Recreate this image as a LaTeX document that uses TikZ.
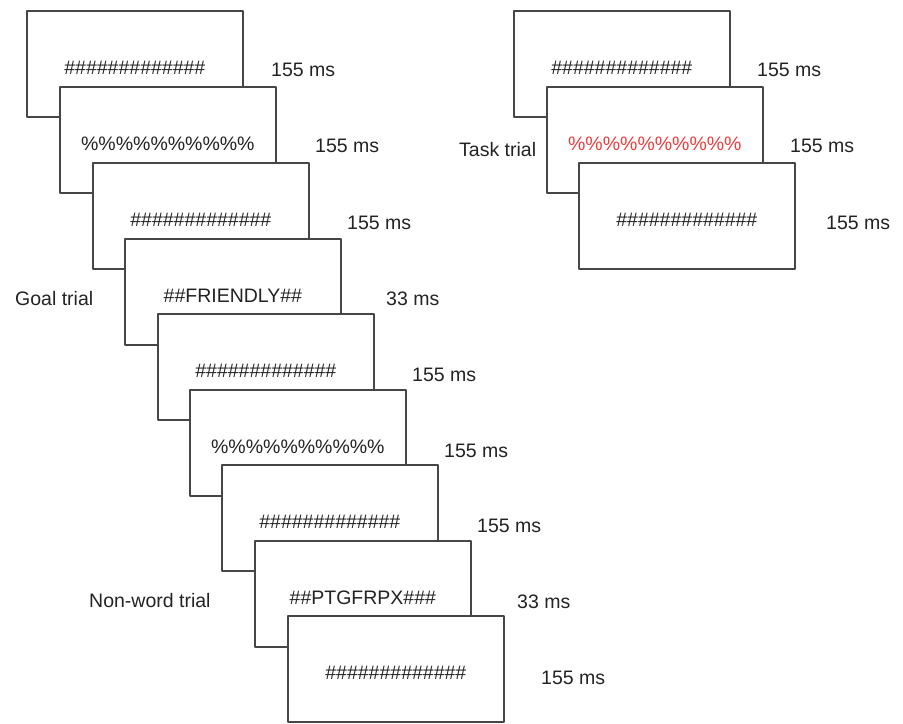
\documentclass[tikz,border=0pt]{standalone}
\usepackage{fontspec}
\setmainfont{Liberation Sans}
\definecolor{linegray}{RGB}{70,70,70}
\definecolor{txtgray}{RGB}{35,35,35}
\definecolor{stimred}{RGB}{238,62,62}
\begin{document}
\begin{tikzpicture}[x=1bp,y=-1bp,
  screen/.style={draw=linegray, fill=white, line width=1.7bp, line join=round,
    rectangle, minimum width=216bp, minimum height=106bp, inner sep=0pt, anchor=north west},
  stim/.style={font=\fontsize{19.5bp}{23bp}\selectfont, text=txtgray, anchor=base, inner sep=0pt},
  dur/.style={font=\fontsize{19.5bp}{23bp}\selectfont, text=txtgray, anchor=base west, inner sep=0pt},
  cond/.style={font=\fontsize{19.5bp}{23bp}\selectfont, text=txtgray, anchor=base west, inner sep=0pt}]
\useasboundingbox (0,0) rectangle (903,724);
% left stack
\node[screen] (b1) at (26,10) {};
\node[stim] (s1) at ([yshift=-11bp]b1.center) {\#\#\#\#\#\#\#\#\#\#\#\#\#};
\node[screen] (b2) at (59,86) {};
\node[stim] (s2) at ([yshift=-11bp]b2.center) {\%\%\%\%\%\%\%\%\%\%};
\node[screen] (b3) at (92,162) {};
\node[stim] (s3) at ([yshift=-11bp]b3.center) {\#\#\#\#\#\#\#\#\#\#\#\#\#};
\node[screen] (b4) at (124,238) {};
\node[stim] (s4) at ([yshift=-11bp]b4.center) {\#\#FRIENDLY\#\#};
\node[screen] (b5) at (157,313) {};
\node[stim] (s5) at ([yshift=-11bp]b5.center) {\#\#\#\#\#\#\#\#\#\#\#\#\#};
\node[screen] (b6) at (189,389) {};
\node[stim] (s6) at ([yshift=-11bp]b6.center) {\%\%\%\%\%\%\%\%\%\%};
\node[screen] (b7) at (221,464) {};
\node[stim] (s7) at ([yshift=-11bp]b7.center) {\#\#\#\#\#\#\#\#\#\#\#\#\#};
\node[screen] (b8) at (254,540) {};
\node[stim] (s8) at ([yshift=-11bp]b8.center) {\#\#PTGFRPX\#\#\#};
\node[screen] (b9) at (287,615) {};
\node[stim] (s9) at ([yshift=-11bp]b9.center) {\#\#\#\#\#\#\#\#\#\#\#\#\#};
% durations left
\node[dur] (d1) at (271,77) {155 ms};
\node[dur] (d2) at (315,153) {155 ms};
\node[dur] (d3) at (347,229) {155 ms};
\node[dur] (d4) at (386,305) {33 ms};
\node[dur] (d5) at (412,381) {155 ms};
\node[dur] (d6) at (444,457) {155 ms};
\node[dur] (d7) at (477,532) {155 ms};
\node[dur] (d8) at (517,608) {33 ms};
\node[dur] (d9) at (541,684) {155 ms};
% right stack
\node[screen] (r1) at (513,10) {};
\node[stim] (t1) at ([yshift=-11bp]r1.center) {\#\#\#\#\#\#\#\#\#\#\#\#\#};
\node[screen] (r2) at (546,86) {};
\node[stim, text=stimred] (t2) at ([yshift=-11bp]r2.center) {\%\%\%\%\%\%\%\%\%\%};
\node[screen] (r3) at (578,162) {};
\node[stim] (t3) at ([yshift=-11bp]r3.center) {\#\#\#\#\#\#\#\#\#\#\#\#\#};
\node[dur] (e1) at (757,77) {155 ms};
\node[dur] (e2) at (790,153) {155 ms};
\node[dur] (e3) at (826,229) {155 ms};
% condition labels
\node[cond] (goal) at (15,305) {Goal trial};
\node[cond] (nonword) at (89,607) {Non-word trial};
\node[cond] (task) at (459,157) {Task trial};
\end{tikzpicture}
\end{document}
